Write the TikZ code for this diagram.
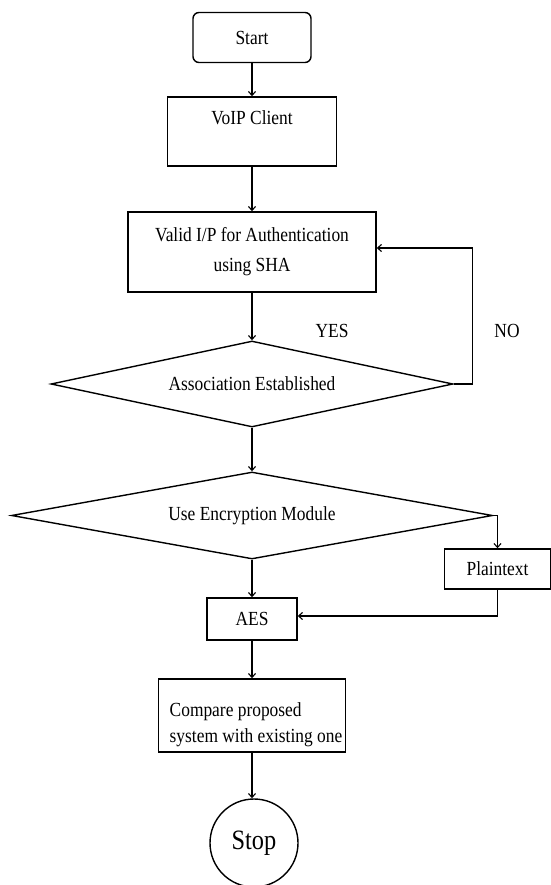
\documentclass[tikz,border=0pt]{standalone}
\usepackage{fontspec}
\setmainfont{Liberation Serif}[FakeStretch=0.87]
\usetikzlibrary{shapes.geometric,arrows.meta,calc}
\begin{document}
\begin{tikzpicture}[x=1pt,y=-1pt,line width=1.4pt,
  every node/.style={font=\fontsize{20}{30}\selectfont},
  box/.style={draw,rectangle,inner sep=0pt},
  startbox/.style={draw,rectangle,rounded corners=6pt,inner sep=0pt},
  decision/.style={draw,diamond,inner sep=0pt,aspect=4.5},
  arr/.style={-{Straight Barb[length=4pt,width=7pt,line width=1.1pt]}},
  lbl/.style={inner sep=0pt}]
\useasboundingbox (0,0) rectangle (550,885);
\node[startbox,minimum width=118pt,minimum height=50pt] (start) at (252,37.5) {Start};
\node[box,minimum width=169pt,minimum height=69pt] (voip) at (252,131.5) {};
\node[lbl] (voipt) at (252,118) {VoIP Client};
\node[box,minimum width=248pt,minimum height=80pt,align=center] (valid) at (252,252) {Valid I/P for Authentication\\using SHA};
\node[decision,minimum width=402pt,minimum height=86pt] (d1) at (252,384) {Association Established};
\node[decision,minimum width=481pt,minimum height=87pt] (d2) at (252,515.5) {Use Encryption Module};
\node[box,minimum width=106pt,minimum height=40pt] (plain) at (497.5,569) {Plaintext};
\node[box,minimum width=90pt,minimum height=42pt] (aes) at (252,619) {AES};
\node[box,minimum width=187pt,minimum height=73pt] (cmp) at (252,715.5) {};
\node[lbl,anchor=west,align=left,font=\fontsize{20}{26}\selectfont] (cmpt) at (169,725) {Compare proposed\\system with existing one};
\node[draw,circle,minimum size=88pt,inner sep=0pt,font=\fontsize{28}{30}\selectfont] (stop) at (254,843) {Stop};
\node[lbl] (yes) at (332,331) {YES};
\node[lbl] (no) at (507,331) {NO};
\draw[arr] (start) -- (voip);
\draw[arr] (voip) -- (valid);
\draw[arr] (valid) -- (d1);
\draw[arr] (d1) -- (d2);
\draw[arr] (d1.east) -- ++(19,0) |- ($(valid.east)+(0,-4)$);
\draw[arr] (d2.east) -| (plain.north);
\draw[arr] (d2.south) -- (aes.north);
\draw[arr] (plain.south) |- ($(aes.east)+(0,-3)$);
\draw[arr] (aes.south) -- (cmp.north);
\draw[arr] (cmp.south) -- (stop.north -| cmp.south);
\end{tikzpicture}
\end{document}
